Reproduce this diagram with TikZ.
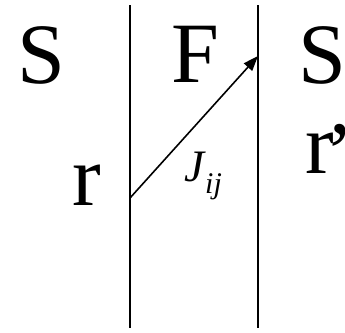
\documentclass[tikz,border=0pt]{standalone}
\usepackage{fontspec}
\setmainfont{Liberation Serif}
\usetikzlibrary{arrows.meta, positioning}

\begin{document}
\begin{tikzpicture}[
  x=1pt, y=-1pt,
  region/.style={anchor=base, inner sep=0pt, font=\fontsize{86}{90}\selectfont},
  wall/.style={line width=1.6pt},
  arrow/.style={-{Triangle[length=15pt, width=11pt]}, line width=1.6pt}
]
\useasboundingbox (0,0) rectangle (345,332);

% interfaces
\coordinate (L1) at (130,5);
\coordinate (L2) at (130,328);
\coordinate (R1) at (258,5);
\coordinate (R2) at (258,328);
\draw[wall] (L1) -- (L2);
\draw[wall] (R1) -- (R2);

% layers
\node[region] (SL) at (41,83) {S};
\node[region] (F)  at (195,82) {F};
\node[region] (SR) at (322,83) {S};
\node[region] (r)  at (87,205) {r};
\node[region, anchor=base west] (rp) at (305,173) {r\kern-8pt\raisebox{-8pt}{’}};

% exchange
\coordinate (from) at (130,198);
\coordinate (to) at (258,56);
\draw[arrow] (from) -- (to);
\node[anchor=base west, inner sep=0pt, font=\fontsize{45}{48}\selectfont\itshape] (J) at (184,181)
  {J\kern1pt\raisebox{-12pt}{\fontsize{30}{32}\selectfont ij}};
\end{tikzpicture}
\end{document}
